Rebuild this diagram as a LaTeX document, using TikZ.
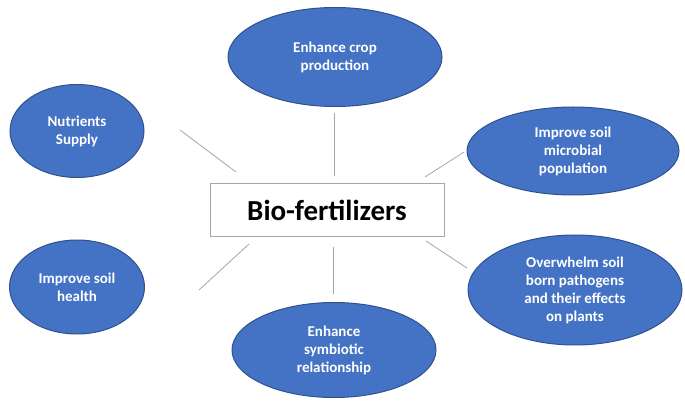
\documentclass[tikz,border=0pt]{standalone}
\usepackage{fontspec}
\setmainfont{Carlito}
\usetikzlibrary{shapes.geometric}
\definecolor{bl}{HTML}{4472C4}
\definecolor{bd}{HTML}{2F528F}
\tikzset{el/.style={ellipse,fill=bl,draw=bd,line width=1pt,text=white,font=\bfseries\fontsize{15}{18}\selectfont,align=center,inner sep=0pt},
ln/.style={draw=gray!70,line width=0.8pt}}
\begin{document}
\begin{tikzpicture}[x=1pt,y=-1pt]
\useasboundingbox (0,0) rectangle (685,411);
\node[draw=gray!70,line width=1pt,minimum width=234pt,minimum height=53pt,font=\bfseries\fontsize{29}{34}\selectfont] (c) at (327,210) {Bio-fertilizers};
\node[el,minimum width=214pt,minimum height=99pt] (t) at (335,57) {Enhance crop\\production};
\node[el,minimum width=134pt,minimum height=93pt] (n) at (77,131) {Nutrients\\Supply};
\node[el,minimum width=212pt,minimum height=88pt] (m) at (573,151) {Improve soil\\microbial\\population};
\node[el,minimum width=135pt,minimum height=94pt] (h) at (77,287) {Improve soil\\health};
\node[el,minimum width=204pt,minimum height=95pt] (s) at (334,350) {Enhance\\symbiotic\\relationship};
\node[el,minimum width=214pt,minimum height=110pt] (o) at (575,290) {Overwhelm soil\\born pathogens\\and their effects\\on plants};
\coordinate (a1) at (180,130); \coordinate (a2) at (236,172);
\coordinate (b1) at (334,113); \coordinate (b2) at (334,176);
\coordinate (c1) at (425,177); \coordinate (c2) at (464,152);
\coordinate (d1) at (199,290); \coordinate (d2) at (249,244);
\coordinate (e1) at (333,247); \coordinate (e2) at (333,294);
\coordinate (f1) at (426,241); \coordinate (f2) at (467,268);
\draw[ln] (a1)--(a2); \draw[ln] (b1)--(b2); \draw[ln] (c1)--(c2);
\draw[ln] (d1)--(d2); \draw[ln] (e1)--(e2); \draw[ln] (f1)--(f2);
\end{tikzpicture}
\end{document}
